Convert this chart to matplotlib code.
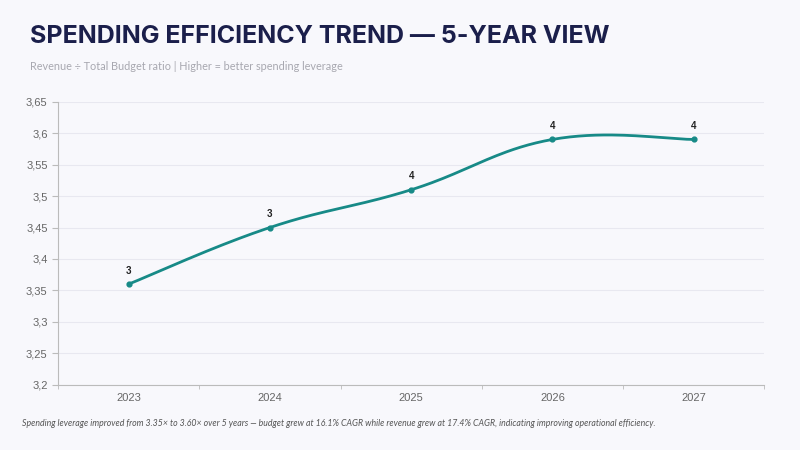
import numpy as np
import matplotlib.pyplot as plt

years = ['2023', '2024', '2025', '2026', '2027']
ratio = [3.36, 3.45, 3.51, 3.59, 3.59]
point_labels = ['3', '3', '4', '4', '4']
y_ticks = [3.2, 3.25, 3.3, 3.35, 3.4, 3.45, 3.5, 3.55, 3.6, 3.65]

title = 'SPENDING EFFICIENCY TREND \u2014 5-YEAR VIEW'
subtitle = 'Revenue \u00f7 Total Budget ratio | Higher = better spending leverage'
note = ('Spending leverage improved from 3.35\u00d7 to 3.60\u00d7 over 5 years \u2014 budget grew at 16.1% CAGR '
        'while revenue grew at 17.4% CAGR, indicating improving operational efficiency.')

bg = '#f8f8fc'
teal = '#178a87'


def smooth(xs, ys, tension=0.4, n=40):
    # bezier curve through the points, like a chart library's tension setting
    xs = np.asarray(xs, float)
    ys = np.asarray(ys, float)
    out_x, out_y = [], []
    for i in range(len(xs) - 1):
        p0 = (xs[max(i - 1, 0)], ys[max(i - 1, 0)])
        p1 = (xs[i], ys[i])
        p2 = (xs[i + 1], ys[i + 1])
        p3 = (xs[min(i + 2, len(xs) - 1)], ys[min(i + 2, len(xs) - 1)])
        c1 = (p1[0] + (p2[0] - p0[0]) * tension / 2, p1[1] + (p2[1] - p0[1]) * tension / 2)
        c2 = (p2[0] - (p3[0] - p1[0]) * tension / 2, p2[1] - (p3[1] - p1[1]) * tension / 2)
        t = np.linspace(0, 1, n)
        bx = (1 - t) ** 3 * p1[0] + 3 * (1 - t) ** 2 * t * c1[0] + 3 * (1 - t) * t ** 2 * c2[0] + t ** 3 * p2[0]
        by = (1 - t) ** 3 * p1[1] + 3 * (1 - t) ** 2 * t * c1[1] + 3 * (1 - t) * t ** 2 * c2[1] + t ** 3 * p2[1]
        out_x.extend(bx)
        out_y.extend(by)
    return out_x, out_y


plt.rcParams['font.family'] = ['Liberation Sans', 'DejaVu Sans']

fig = plt.figure(figsize=(8, 4.5), dpi=100, facecolor=bg)
ax = fig.add_axes([0.0725, 0.145, 0.883, 0.629])
ax.set_facecolor(bg)

x = np.arange(len(years))
sx, sy = smooth(x, ratio)
ax.plot(sx, sy, color=teal, lw=2, solid_capstyle='round')
ax.scatter(x, ratio, color=teal, s=12, zorder=3)
for xi, yi, lab in zip(x, ratio, point_labels):
    ax.annotate(lab, (xi, yi), xytext=(0, 6), textcoords='offset points',
                ha='center', va='bottom', fontsize=7, fontweight='bold', color='#222222')

ax.set_xlim(-0.5, len(years) - 0.5)
ax.set_ylim(3.2, 3.65)
ax.set_xticks(x)
ax.set_xticklabels(years)
ax.set_xticks(np.arange(len(years) + 1) - 0.5, minor=True)
ax.set_yticks(y_ticks)
ax.set_yticklabels([('%g' % v).replace('.', ',') for v in y_ticks])
ax.tick_params(axis='both', colors='#bbbbbb', labelcolor='#666666', labelsize=8, length=4)
ax.tick_params(axis='x', length=0, pad=6)
ax.tick_params(axis='x', which='minor', length=3, colors='#bbbbbb')
ax.grid(axis='y', color='#e8e8f0', lw=0.8)
ax.set_axisbelow(True)
for side in ['top', 'right']:
    ax.spines[side].set_visible(False)
for side in ['left', 'bottom']:
    ax.spines[side].set_color('#bbbbbb')

fig.text(0.037, 0.918, title, fontsize=18, fontweight='bold', color='#1b1f4b',
         va='center', family='Inter')
fig.text(0.037, 0.853, subtitle, fontsize=7.8, color='#a8a8b0', va='center', family='Lato')
fig.text(0.027, 0.06, note, fontsize=6.35, style='italic', color='#555555', va='center', family='Lato')

fig.savefig('out.png', dpi=100, facecolor=bg)
